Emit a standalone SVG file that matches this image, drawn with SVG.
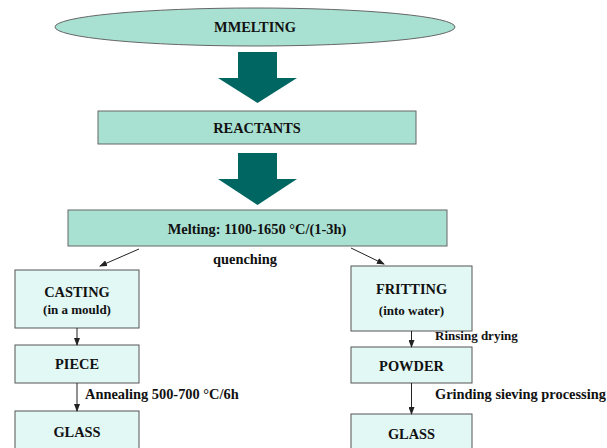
<svg xmlns="http://www.w3.org/2000/svg" width="607" height="448" viewBox="0 0 607 448">
<defs>
<style>
text{font-family:"Liberation Serif","Times New Roman",serif;font-weight:bold;fill:#111;}
.t14{font-size:14.4px;}
.t13{font-size:13px;}
.mint{fill:#a8e1d2;stroke:#666;stroke-width:1;}
.light{fill:#e2f8f5;stroke:#555;stroke-width:1;}
.big{fill:#006662;}
.con{stroke:#222;stroke-width:1;fill:none;marker-end:url(#ah);}
</style>
<marker id="ah" markerWidth="8" markerHeight="6" refX="7" refY="3" orient="auto" markerUnits="userSpaceOnUse">
<path d="M0,0 L8,3 L0,6 Z" fill="#222"/>
</marker>
</defs>
<rect width="607" height="448" fill="#fff"/>
<g id="mmelting">
<ellipse class="mint" cx="255" cy="27" rx="200" ry="19"/>
<text class="t14" x="255" y="32" text-anchor="middle">MMELTING</text>
</g>
<g id="arrow1">
<polygon class="big" points="238,52 277,52 277,78 297,78 257.5,103 218,78 238,78"/>
</g>
<g id="reactants">
<rect class="mint" x="98" y="111" width="318" height="33"/>
<text class="t14" x="257" y="133" text-anchor="middle">REACTANTS</text>
</g>
<g id="arrow2">
<polygon class="big" points="238,153 277,153 277,179 297,179 257.5,205 218,179 238,179"/>
</g>
<g id="melting">
<rect class="mint" x="68" y="210" width="379" height="36"/>
<text class="t14" x="257" y="234" text-anchor="middle">Melting: 1100-1650 °C/(1-3h)</text>
</g>
<g id="casting">
<rect class="light" x="15" y="270" width="124" height="58"/>
<text class="t14" x="77" y="297" text-anchor="middle">CASTING</text>
<text class="t13" x="77" y="314" text-anchor="middle">(in a mould)</text>
</g>
<g id="piece">
<rect class="light" x="15" y="345" width="124" height="38"/>
<text class="t14" x="77" y="369" text-anchor="middle">PIECE</text>
</g>
<g id="glass-left">
<rect class="light" x="15" y="411" width="124" height="50"/>
<text class="t14" x="77" y="437" text-anchor="middle">GLASS</text>
</g>
<g id="fritting">
<rect class="light" x="351" y="266" width="121" height="65"/>
<text class="t14" x="411.5" y="294" text-anchor="middle">FRITTING</text>
<text class="t13" x="411.5" y="315" text-anchor="middle">(into water)</text>
</g>
<g id="powder">
<rect class="light" x="351" y="347" width="121" height="36"/>
<text class="t14" x="411.5" y="371" text-anchor="middle">POWDER</text>
</g>
<g id="glass-right">
<rect class="light" x="351" y="414" width="121" height="50"/>
<text class="t14" x="411.5" y="439" text-anchor="middle">GLASS</text>
</g>
<g id="connectors">
<line class="con" x1="139" y1="249" x2="100" y2="266"/>
<line class="con" x1="351" y1="248" x2="384" y2="264"/>
<line class="con" x1="77" y1="328" x2="77" y2="345"/>
<line class="con" x1="77" y1="383" x2="77" y2="411"/>
<line class="con" x1="411.5" y1="331" x2="411.5" y2="347"/>
<line class="con" x1="411.5" y1="383" x2="411.5" y2="414"/>
</g>
<g id="labels">
<text class="t14" x="245" y="264" text-anchor="middle">quenching</text>
<text class="t14" x="85" y="399">Annealing 500-700 °C/6h</text>
<text class="t13" x="435" y="340">Rinsing drying</text>
<text class="t14" x="435" y="399">Grinding sieving processing</text>
</g>
</svg>
